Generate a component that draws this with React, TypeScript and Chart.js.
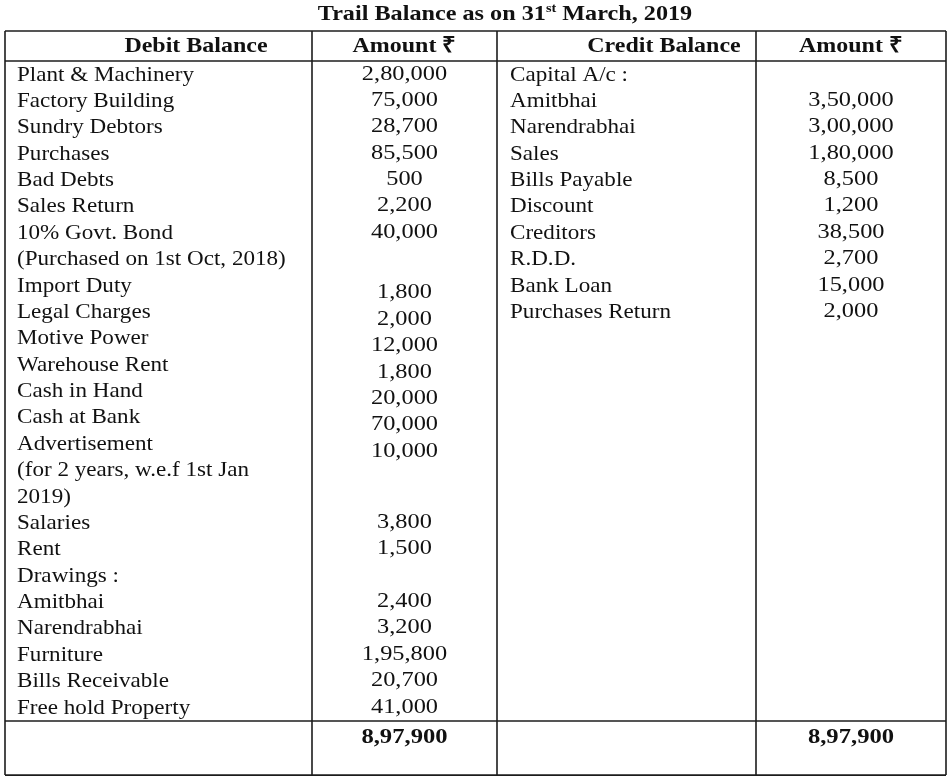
import React, { useEffect, useRef } from "react";
import { Chart, registerables } from "chart.js";

Chart.register(...registerables);

// ---------- data ----------
const TITLE_MAIN = "Trail Balance as on 31";
const TITLE_SUP = "st";
const TITLE_END = " March, 2019";

const HEADERS = ["Debit Balance", "Amount ₹", "Credit Balance", "Amount ₹"];

const DEBIT_LABELS = [
  "Plant & Machinery",
  "Factory Building",
  "Sundry Debtors",
  "Purchases",
  "Bad Debts",
  "Sales Return",
  "10% Govt. Bond",
  "(Purchased on 1st Oct, 2018)",
  "Import Duty",
  "Legal Charges",
  "Motive Power",
  "Warehouse Rent",
  "Cash in Hand",
  "Cash at Bank",
  "Advertisement",
  "(for 2 years, w.e.f 1st Jan",
  "2019)",
  "Salaries",
  "Rent",
  "Drawings :",
  "Amitbhai",
  "Narendrabhai",
  "Furniture",
  "Bills Receivable",
  "Free hold Property",
];

const DEBIT_AMOUNTS: (number | null)[] = [
  280000, 75000, 28700, 85500, 500, 2200, 40000, null,
  1800, 2000, 12000, 1800, 20000, 70000, 10000, null, null,
  3800, 1500, null, 2400, 3200, 195800, 20700, 41000,
];

const CREDIT_LABELS = [
  "Capital A/c :",
  "Amitbhai",
  "Narendrabhai",
  "Sales",
  "Bills Payable",
  "Discount",
  "Creditors",
  "R.D.D.",
  "Bank Loan",
  "Purchases Return",
];

const CREDIT_AMOUNTS: (number | null)[] = [
  null, 350000, 300000, 180000, 8500, 1200, 38500, 2700, 15000, 2000,
];

const DEBIT_TOTAL = 897900;
const CREDIT_TOTAL = 897900;

// ---------- layout ----------
const W = 952;
const H = 781;
const ROW_PX = 26.375;
const FIRST_ROW_PX = 73;
const Y_MIN = -FIRST_ROW_PX / ROW_PX;
const Y_MAX = Y_MIN + H / ROW_PX;

const COL_EDGES = [5, 312, 497, 756, 946];
const HEADER_X = [196, 404.5, 664, 851];
const DEBIT_TEXT_X = 17;
const CREDIT_TEXT_X = 510;
const DEBIT_AMT_X = 404.5;
const CREDIT_AMT_X = 851;
const TITLE_X = 505;

const TITLE_ROW = -2.237;
const HEADER_ROW = -1.06;
const TOTAL_ROW = 25.15;
const H_LINES = [-1.592, -0.455, 24.57, 26.62];
const SHIFTED_ROWS = [8, 9, 10, 11, 12, 13, 14];
const SHIFT = 0.3;

const FONT = "'Liberation Serif', 'Times New Roman', serif";
const TEXT_COLOR = "#111";
const LINE_COLOR = "#1c1c1c";

function inr(n: number): string {
  const s = String(Math.round(n));
  if (s.length <= 3) return s;
  const last3 = s.slice(-3);
  const rest = s.slice(0, -3).replace(/\B(?=(\d{2})+(?!\d))/g, ",");
  return rest + "," + last3;
}

type TextDs = {
  label: string;
  data: { x: number; y: number }[];
  texts: string[];
  align: CanvasTextAlign;
  font: string;
  stretch: number;
  dy: number;
  pointRadius: number;
  showLine: boolean;
};

const BODY_FONT = `21px ${FONT}`;
const BOLD_FONT = `bold 22px ${FONT}`;

function buildDatasets(): TextDs[] {
  const ds: TextDs[] = [];
  ds.push({
    label: "debitLabels",
    data: DEBIT_LABELS.map((_, i) => ({ x: DEBIT_TEXT_X, y: i })),
    texts: DEBIT_LABELS,
    align: "left",
    font: BODY_FONT,
    stretch: 1.1,
    dy: 7.5,
    pointRadius: 0,
    showLine: false,
  });
  const dAmtData: { x: number; y: number }[] = [];
  const dAmtText: string[] = [];
  DEBIT_AMOUNTS.forEach((v, i) => {
    if (v === null) return;
    dAmtData.push({ x: DEBIT_AMT_X, y: i + (SHIFTED_ROWS.includes(i) ? SHIFT : 0) });
    dAmtText.push(inr(v));
  });
  ds.push({ label: "debitAmounts", data: dAmtData, texts: dAmtText, align: "center", font: BODY_FONT, stretch: 1.16, dy: 6.5, pointRadius: 0, showLine: false });
  ds.push({
    label: "creditLabels",
    data: CREDIT_LABELS.map((_, i) => ({ x: CREDIT_TEXT_X, y: i })),
    texts: CREDIT_LABELS,
    align: "left",
    font: BODY_FONT,
    stretch: 1.1,
    dy: 7.5,
    pointRadius: 0,
    showLine: false,
  });
  const cAmtData: { x: number; y: number }[] = [];
  const cAmtText: string[] = [];
  CREDIT_AMOUNTS.forEach((v, i) => {
    if (v === null) return;
    cAmtData.push({ x: CREDIT_AMT_X, y: i });
    cAmtText.push(inr(v));
  });
  ds.push({ label: "creditAmounts", data: cAmtData, texts: cAmtText, align: "center", font: BODY_FONT, stretch: 1.16, dy: 6.5, pointRadius: 0, showLine: false });
  ds.push({
    label: "headers",
    data: HEADERS.map((_, i) => ({ x: HEADER_X[i], y: HEADER_ROW })),
    texts: HEADERS,
    align: "center",
    font: BOLD_FONT,
    stretch: 1.09,
    dy: 7,
    pointRadius: 0,
    showLine: false,
  });
  ds.push({
    label: "totals",
    data: [
      { x: DEBIT_AMT_X, y: TOTAL_ROW },
      { x: CREDIT_AMT_X, y: TOTAL_ROW },
    ],
    texts: [inr(DEBIT_TOTAL), inr(CREDIT_TOTAL)],
    align: "center",
    font: BOLD_FONT,
    stretch: 1.12,
    dy: 7,
    pointRadius: 0,
    showLine: false,
  });
  return ds;
}

function drawText(ctx: CanvasRenderingContext2D, text: string, x: number, y: number, font: string, align: CanvasTextAlign, sx: number) {
  ctx.save();
  ctx.font = font;
  ctx.textAlign = align;
  ctx.textBaseline = "alphabetic";
  ctx.translate(x, y);
  ctx.scale(sx, 1);
  ctx.fillText(text, 0, 0);
  ctx.restore();
}

const tablePlugin = {
  id: "tablePlugin",
  beforeDatasetsDraw(chart: any) {
    const { ctx, scales } = chart;
    const xs = scales.x;
    const ys = scales.y;
    ctx.save();
    ctx.strokeStyle = LINE_COLOR;
    ctx.lineWidth = 1.6;
    const top = ys.getPixelForValue(H_LINES[0]);
    const bottom = ys.getPixelForValue(H_LINES[H_LINES.length - 1]);
    const left = xs.getPixelForValue(COL_EDGES[0]);
    const right = xs.getPixelForValue(COL_EDGES[COL_EDGES.length - 1]);
    H_LINES.forEach((v) => {
      const y = ys.getPixelForValue(v);
      ctx.beginPath();
      ctx.moveTo(left, y);
      ctx.lineTo(right, y);
      ctx.stroke();
    });
    COL_EDGES.forEach((v) => {
      const x = xs.getPixelForValue(v);
      ctx.beginPath();
      ctx.moveTo(x, top);
      ctx.lineTo(x, bottom);
      ctx.stroke();
    });
    ctx.restore();
  },
  afterDatasetsDraw(chart: any) {
    const { ctx, scales } = chart;
    ctx.save();
    ctx.fillStyle = TEXT_COLOR;
    chart.data.datasets.forEach((ds: any, di: number) => {
      const meta = chart.getDatasetMeta(di);
      meta.data.forEach((pt: any, i: number) => {
        drawText(ctx, ds.texts[i], pt.x, pt.y + ds.dy, ds.font, ds.align, ds.stretch);
      });
    });
    // title with superscript
    const ty = scales.y.getPixelForValue(TITLE_ROW) + 6;
    const tx = scales.x.getPixelForValue(TITLE_X);
    const sx = 1.1;
    const mainFont = BOLD_FONT;
    const supFont = `bold 13px ${FONT}`;
    ctx.font = mainFont;
    const w1 = ctx.measureText(TITLE_MAIN).width * sx;
    const w3 = ctx.measureText(TITLE_END).width * sx;
    ctx.font = supFont;
    const w2 = ctx.measureText(TITLE_SUP).width * sx;
    let x = tx - (w1 + w2 + w3) / 2;
    drawText(ctx, TITLE_MAIN, x, ty, mainFont, "left", sx);
    x += w1;
    drawText(ctx, TITLE_SUP, x, ty - 8, supFont, "left", sx);
    x += w2;
    drawText(ctx, TITLE_END, x, ty, mainFont, "left", sx);
    ctx.restore();
  },
};

export default function App() {
  const ref = useRef<HTMLCanvasElement | null>(null);
  useEffect(() => {
    if (!ref.current) return;
    const chart = new Chart(ref.current, {
      type: "scatter",
      data: { datasets: buildDatasets() as any },
      options: {
        animation: false,
        responsive: false,
        maintainAspectRatio: false,
        layout: { padding: 0 },
        plugins: { legend: { display: false }, tooltip: { enabled: false }, title: { display: false } },
        scales: {
          x: { type: "linear", min: 0, max: W, display: false },
          y: { type: "linear", min: Y_MIN, max: Y_MAX, reverse: true, display: false },
        },
      },
      plugins: [tablePlugin],
    });
    return () => chart.destroy();
  }, []);
  return (
    <div style={{ position: "fixed", left: 0, top: 0, width: W, height: H, background: "#fff" }}>
      <canvas ref={ref} width={W} height={H} style={{ width: W, height: H, display: "block" }} />
    </div>
  );
}
